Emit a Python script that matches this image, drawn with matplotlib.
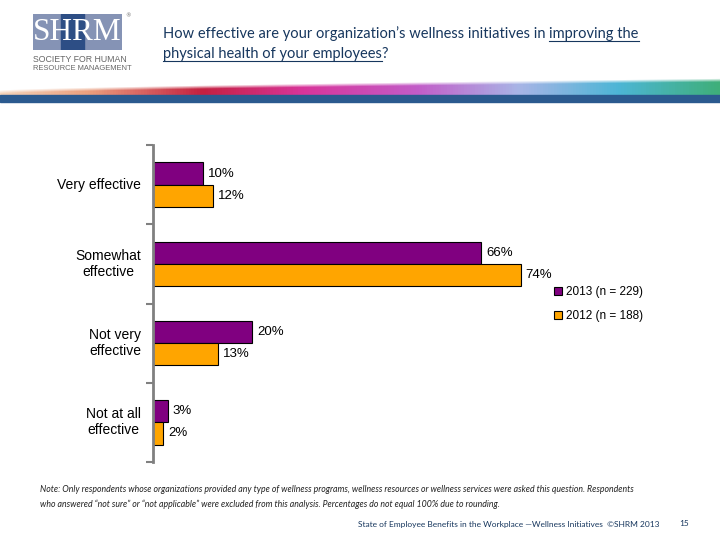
import matplotlib
matplotlib.use("Agg")
import matplotlib.pyplot as plt
import numpy as np
from matplotlib.patches import Rectangle
from matplotlib.colors import LinearSegmentedColormap

# 데이터
categories = ["Very effective", "Somewhat\neffective", "Not very\neffective", "Not at all\neffective"]
vals_2013 = [10, 66, 20, 3]
vals_2012 = [12, 74, 13, 2]
series_labels = ["2013 (n = 229)", "2012 (n = 188)"]

PURPLE = "#800080"
ORANGE = "#FFA500"
NAVY = "#17375E"
TITLE_FONT = ["Lato", "DejaVu Sans"]

fig = plt.figure(figsize=(7.2, 5.4), dpi=100)
W, H = 720, 540


def fx(px):
    return px / W


def fy(py):
    return 1 - py / H


# 로고
logo = fig.add_axes([fx(33), fy(50), fx(122) - fx(33), fy(14) - fy(50)])
logo.set_xlim(0, 89)
logo.set_ylim(0, 36)
logo.axis("off")
logo.add_patch(Rectangle((0, 0), 89, 36, color="#8593B5"))
logo.add_patch(Rectangle((28, 0), 23, 36, color="#2D4E85"))
logo.text(44.5, 17.5, "SHRM", ha="center", va="center", color="white",
          fontsize=22.5, family="Liberation Serif")
fig.text(fx(125), fy(13), "®", fontsize=4, color="#666666", va="top")
fig.text(fx(33), fy(59), "SOCIETY FOR HUMAN", fontsize=6.3, color="#666666",
         va="center", family="Liberation Sans")
fig.text(fx(33), fy(69), "RESOURCE MANAGEMENT", fontsize=5.4, color="#666666",
         va="center", family="Liberation Sans")

# 배너 (무지개 띠)
ban = fig.add_axes([0, fy(96), 1, fy(77) - fy(96)])
ban.axis("off")
nx, ny = 720, 19
stops = [(0.0, "#F4D2B8"), (0.12, "#EBA07E"), (0.28, "#C42040"), (0.42, "#D8359A"),
         (0.58, "#C25CC8"), (0.72, "#A9B4E6"), (0.86, "#4DB6D6"), (1.0, "#3FAF7A")]
cmap = LinearSegmentedColormap.from_list("band", stops)
xs = np.linspace(0, 1, nx)
img = cmap(np.tile(xs, (ny, 1)))
yy = np.linspace(0, 1, ny)[:, None]
top = 0.7 - 0.65 * xs[None, :] ** 0.7
img[..., 3] = np.clip((yy - top) * 5, 0, 1)
ban.imshow(img, aspect="auto", extent=(0, 1, 1, 0))
ban.set_xlim(0, 1)
ban.set_ylim(1, 0)
fig.add_artist(Rectangle((0, fy(102)), 1, fy(95) - fy(102), transform=fig.transFigure,
                         color="#2B5A8F"))

# 제목 (부분 밑줄)
fig.canvas.draw()
r = fig.canvas.get_renderer()


def put(x, y, s, underline=False):
    t = fig.text(x, y, s, fontsize=10.5, color=NAVY, family=TITLE_FONT, va="baseline")
    bb = t.get_window_extent(renderer=r)
    if underline:
        fig.add_artist(plt.Line2D([bb.x0 / W, bb.x1 / W], [y - 2.5 / H, y - 2.5 / H],
                                  transform=fig.transFigure, color=NAVY, lw=0.8))
    return bb.x1 / W


x = put(fx(163), fy(38), "How effective are your organization\u2019s wellness initiatives in ")
put(x, fy(38), "improving the", underline=True)
x = put(fx(163), fy(58), "physical health of your employees", underline=True)
put(x, fy(58), "?")

# 막대 그래프
ax = fig.add_axes([fx(153), fy(462), fx(650) - fx(153), fy(145) - fy(462)])
pos = np.arange(len(categories))
h = 0.28
b1 = ax.barh(pos - h / 2, vals_2013, height=h, color=PURPLE, edgecolor="black", lw=0.8,
             label=series_labels[0])
b2 = ax.barh(pos + h / 2, vals_2012, height=h, color=ORANGE, edgecolor="black", lw=0.8,
             label=series_labels[1])
for bars, vals in [(b1, vals_2013), (b2, vals_2012)]:
    for b, v in zip(bars, vals):
        ax.text(v + 1.0, b.get_y() + b.get_height() / 2, f"{v}%", va="center", ha="left",
                fontsize=9.5, family="Liberation Sans")

ax.set_xlim(0, 100)
ax.set_ylim(3.5, -0.5)
ax.set_yticks(np.arange(-0.5, 4, 1))
ax.set_yticklabels([])
ax.tick_params(axis="y", length=5, color="#808080", width=1.5)
ax.set_xticks([])
for s in ["top", "right", "bottom"]:
    ax.spines[s].set_visible(False)
ax.spines["left"].set_color("#808080")
ax.spines["left"].set_linewidth(2)
for p, c in zip(pos, categories):
    ax.text(-2.4, p, c, ha="right", va="center", fontsize=10, family="Liberation Sans",
            multialignment="center")

fig.legend(handles=[b1, b2], labels=series_labels, loc="upper left",
           bbox_to_anchor=(fx(554), fy(286)), frameon=False,
           prop={"family": "Liberation Sans", "size": 8.5},
           handlelength=0.7, handleheight=0.7, handletextpad=0.3, labelspacing=1.05,
           borderpad=0, borderaxespad=0)

# 주석
note = ("Note: Only respondents whose organizations provided any type of wellness programs, wellness resources or wellness services were asked this question. Respondents\n"
        "who answered \u201cnot sure\u201d or \u201cnot applicable\u201d were excluded from this analysis. Percentages do not equal 100% due to rounding.")
fig.text(fx(40), fy(485), note, fontsize=6.3, style="italic", family=TITLE_FONT,
         va="top", linespacing=1.75, color="#222222")
fig.text(fx(660), fy(524), "State of Employee Benefits in the Workplace \u2014Wellness Initiatives  \u00a9SHRM 2013",
         fontsize=6, ha="right", va="center", family=TITLE_FONT, color=NAVY)
fig.text(fx(684), fy(524), "15", fontsize=6, ha="center", va="center",
         family=TITLE_FONT, color=NAVY)

fig.savefig("out.png", dpi=100)
